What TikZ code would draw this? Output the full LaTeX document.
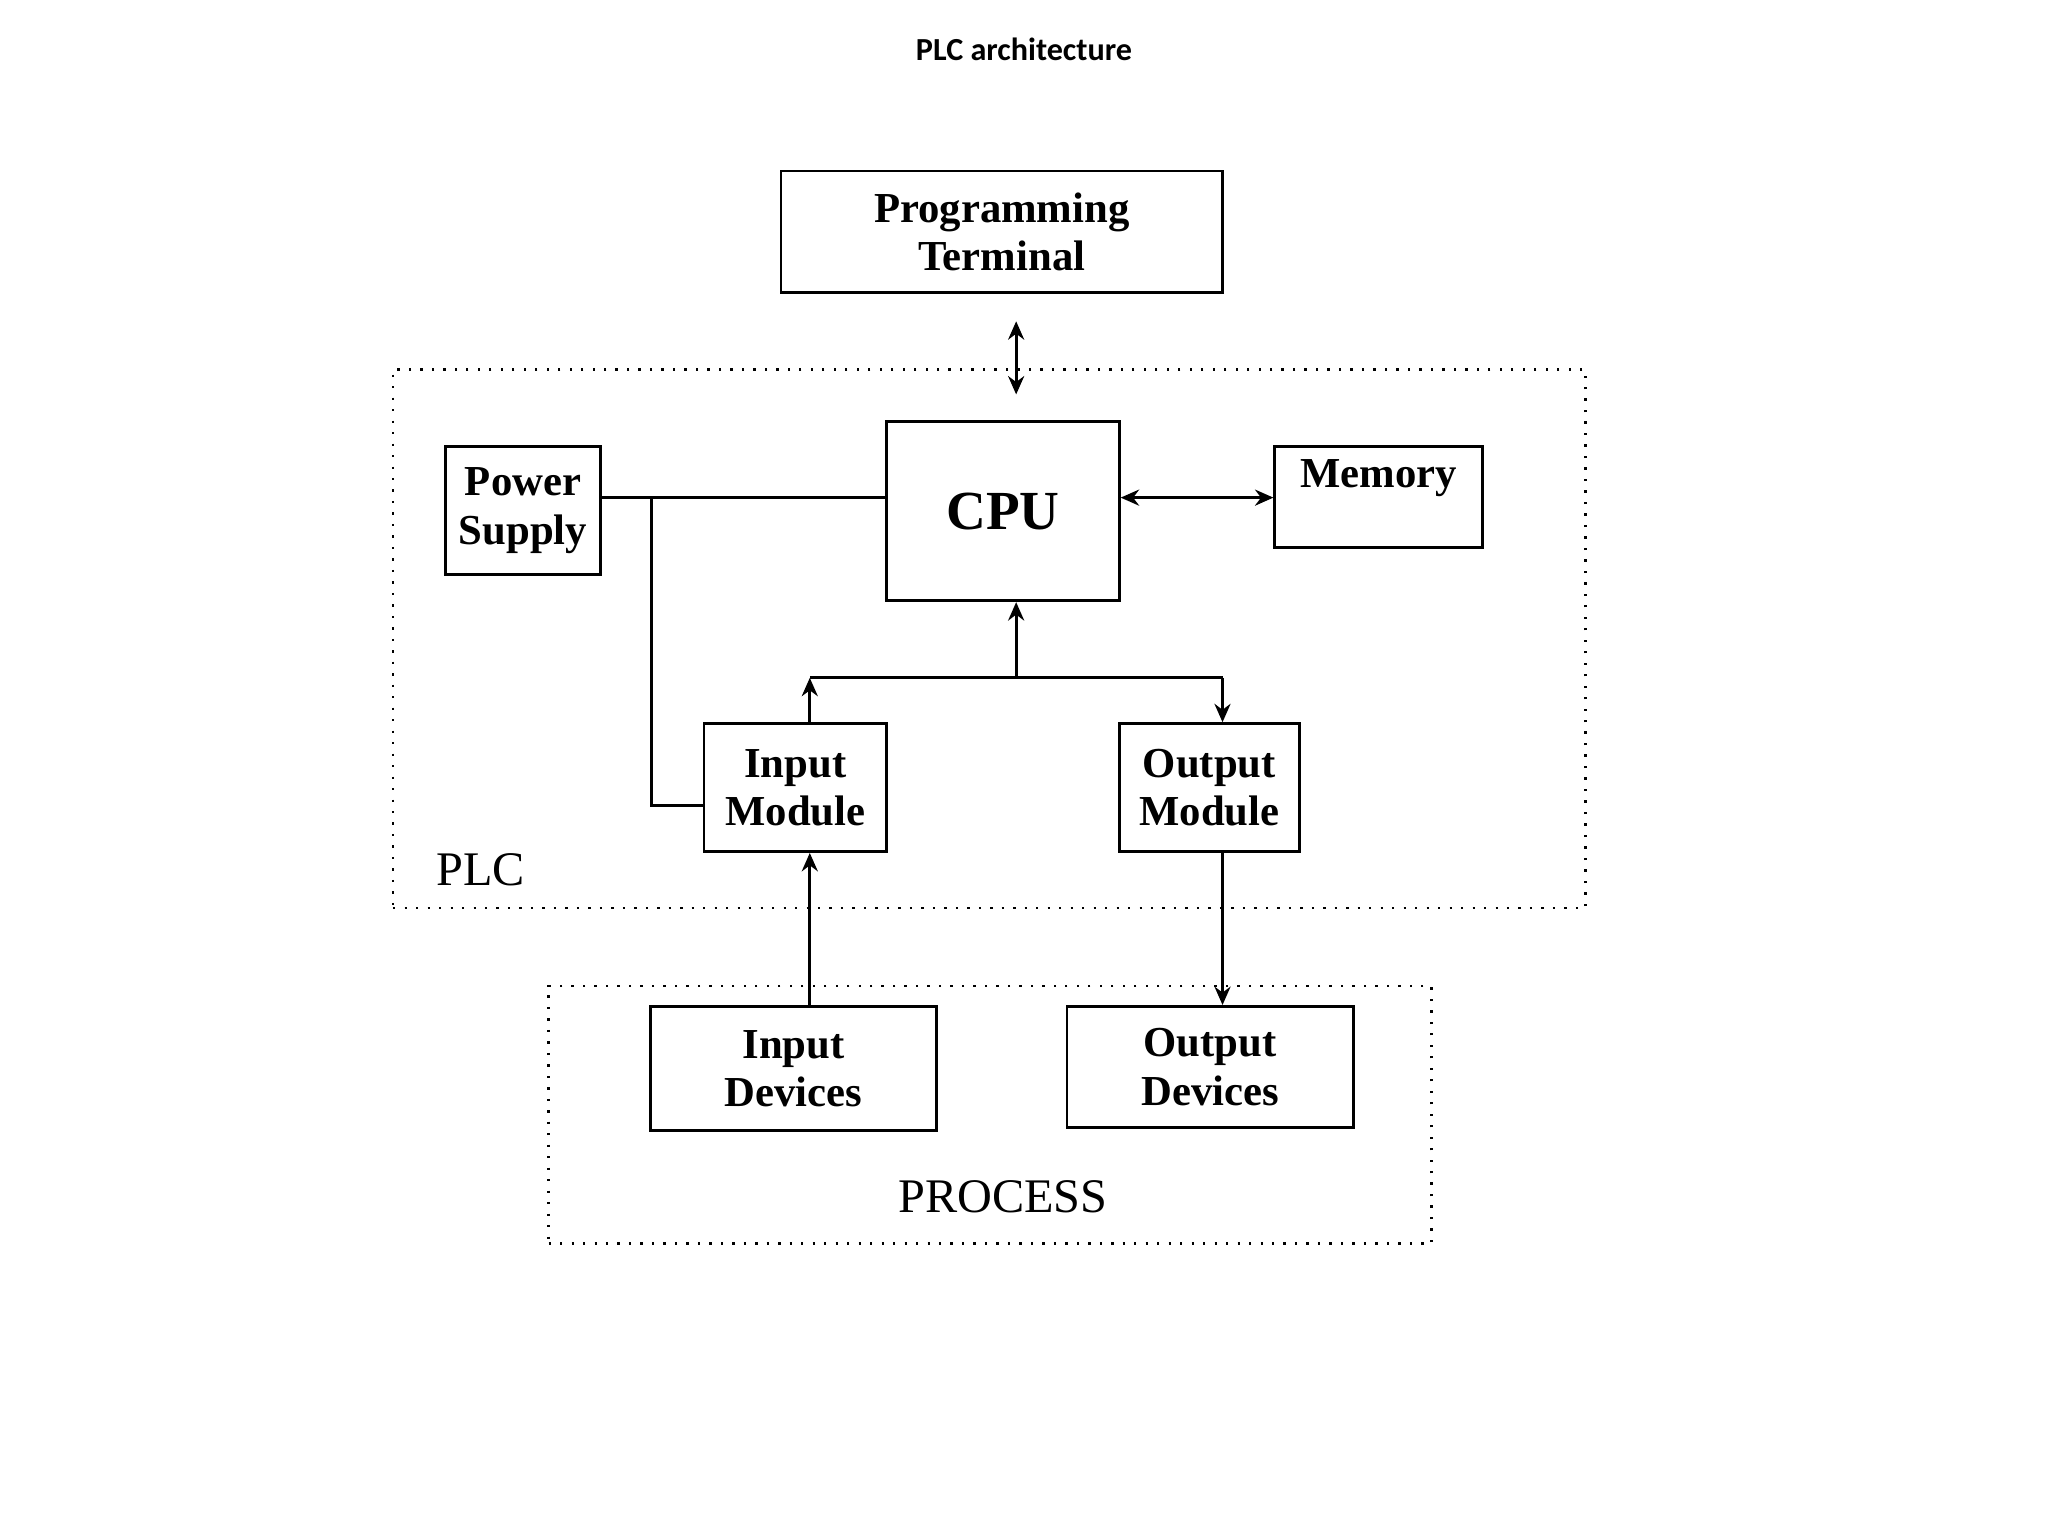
\documentclass[tikz,border=0pt]{standalone}
\usepackage{fontspec}
\setmainfont{Liberation Serif}
\newfontfamily\titlefont{Carlito}
\usetikzlibrary{arrows.meta}
\begin{document}
\begin{tikzpicture}[x=0.01cm,y=-0.01cm,
  box/.style={draw,line width=0.6pt,inner sep=0pt,font=\fontsize{9.3}{10.5}\selectfont\bfseries,align=center},
  dot/.style={draw,line width=0.5pt,dotted,inner sep=0pt},
  ln/.style={line width=0.6pt},
  arr/.style={ln,-{Stealth[length=4pt,width=3.5pt]}},
  darr/.style={ln,{Stealth[length=4pt,width=3.5pt]}-{Stealth[length=4pt,width=3.5pt]}}]
\useasboundingbox (0,0) rectangle (1568,1176);
\node[font=\titlefont\bfseries\fontsize{7}{8}\selectfont] (title) at (784,38) {PLC architecture};
\node[dot,minimum width=913*0.01cm,minimum height=412*0.01cm] (plcbox) at (757.5,489) {};
\node[dot,minimum width=676*0.01cm,minimum height=197*0.01cm] (procbox) at (758,853.5) {};
\node[box,minimum width=338*0.01cm,minimum height=93*0.01cm] (pt) at (767,177.5) {Programming\\Terminal};
\node[box,minimum width=119*0.01cm,minimum height=98*0.01cm] (ps) at (400.5,391) {Power\\Supply};
\node[box,minimum width=178*0.01cm,minimum height=137*0.01cm,font=\fontsize{12}{13}\selectfont\bfseries] (cpu) at (768,391.5) {CPU};
\node[box,minimum width=159*0.01cm,minimum height=77*0.01cm] (mem) at (1055.5,380.5) {};
\node[font=\fontsize{9.3}{10.5}\selectfont\bfseries] (memt) at (1055.5,366) {Memory};
\node[box,minimum width=140*0.01cm,minimum height=98*0.01cm] (im) at (609,603) {Input\\Module};
\node[box,minimum width=138*0.01cm,minimum height=98*0.01cm] (om) at (926,603) {Output\\Module};
\node[box,minimum width=219*0.01cm,minimum height=95*0.01cm] (id) at (607.5,818) {Input\\Devices};
\node[box,minimum width=219*0.01cm,minimum height=93*0.01cm] (od) at (926.5,817) {Output\\Devices};
\node[font=\fontsize{10.5}{12}\selectfont] (plc) at (368,666) {PLC};
\node[font=\fontsize{10.5}{12}\selectfont] (proc) at (768,916) {PROCESS};
\coordinate (t1) at (778,246); \coordinate (t2) at (778,302);
\draw[darr] (t1) -- (t2);
\draw[ln] (ps.east |- 0,381) -- (cpu.west |- 0,381);
\coordinate (pj) at (499,381);
\draw[ln] (pj) -- (499,617) -- (im.west |- 0,617);
\draw[darr] (cpu.east |- 0,381) -- (mem.west |- 0,381);
\coordinate (bl) at (620,519); \coordinate (bm) at (778,519); \coordinate (br) at (936,519);
\draw[ln] (bl) -- (br);
\draw[arr] (bm) -- (cpu.south -| bm);
\draw[arr] (im.north -| bl) -- (bl);
\draw[arr] (br) -- (om.north -| br);
\draw[arr] (id.north -| bl) -- (im.south -| bl);
\draw[arr] (om.south -| br) -- (od.north -| br);
\end{tikzpicture}
\end{document}
